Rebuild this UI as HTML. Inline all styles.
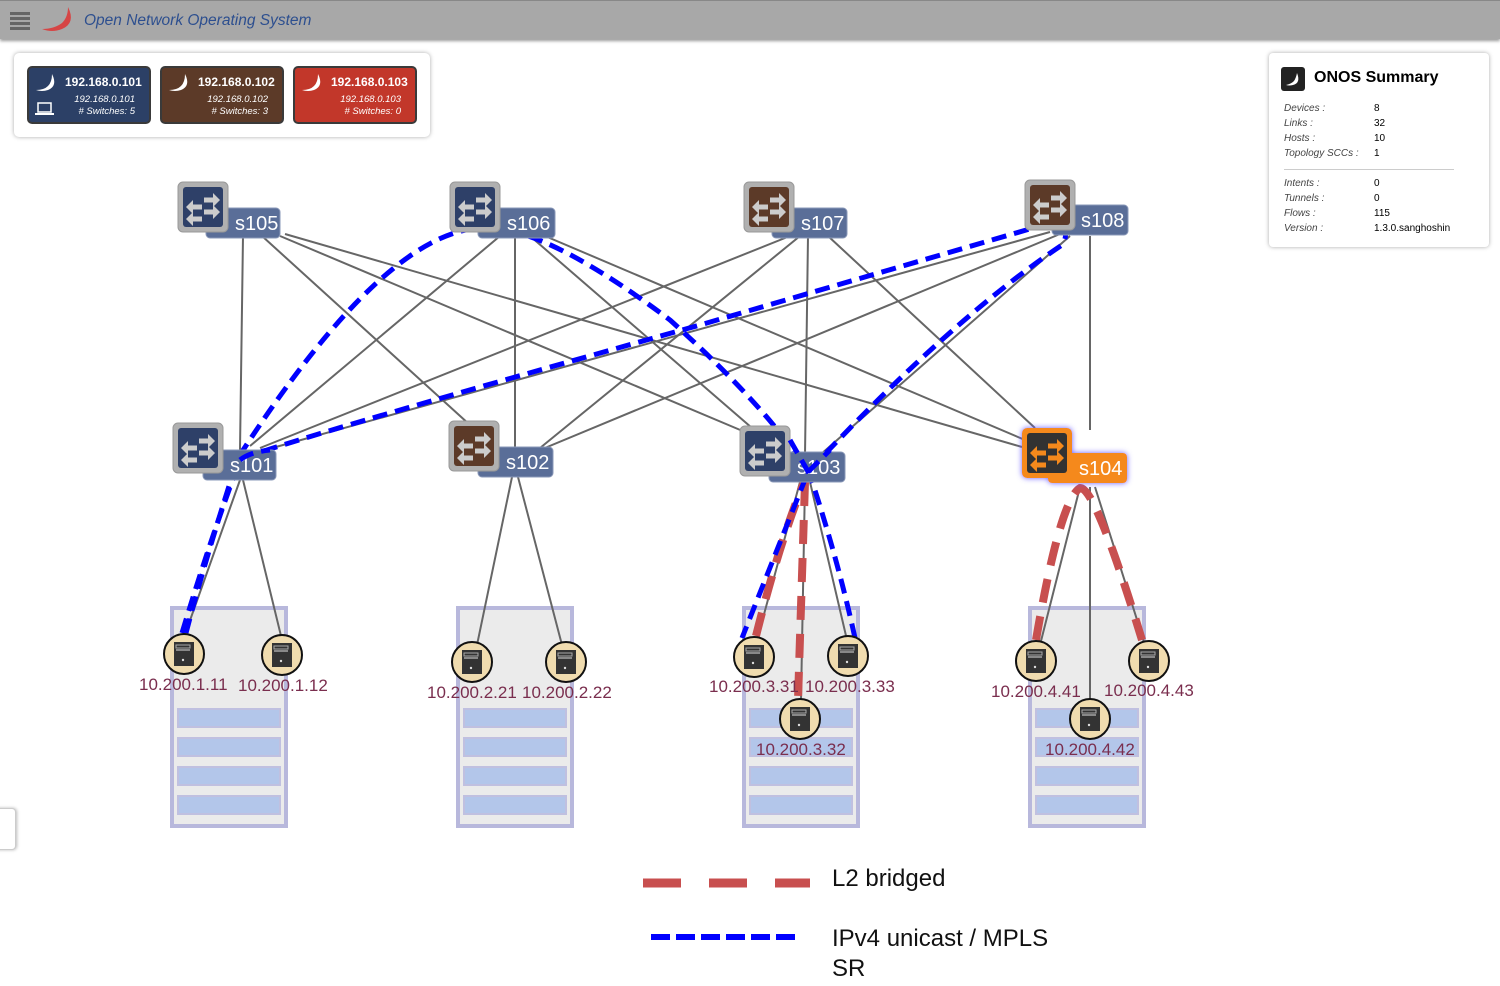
<!DOCTYPE html>
<html><head><meta charset="utf-8"><style>
body{margin:0;width:1500px;height:986px;background:#fff;overflow:hidden;font-family:"Liberation Sans",sans-serif;position:relative}
.hdr{position:absolute;left:0;top:0;width:1500px;height:38px;background:#a8a8a8;border-top:1px solid #888;box-shadow:0 2px 3px #999}
.ttl{position:absolute;left:84px;top:11px;font-size:15px;font-style:italic;color:#2d4f8f}
.inst{position:absolute;left:14px;top:53px;width:416px;height:84px;background:#fff;border-radius:5px;box-shadow:0 0 4px #aaa}
.card{position:absolute;top:13px;width:120px;height:54px;border:2px solid #3a3a3a;border-radius:5px;color:#fff}
.card b{position:absolute;left:36px;top:7px;font-size:12px}
.card i{position:absolute;right:14px;font-size:9.5px;text-align:right}
.sum{position:absolute;left:1269px;top:53px;width:220px;height:194px;background:#fff;border-radius:4px;box-shadow:0 0 4px #aaa}
.sum .h{position:absolute;left:45px;top:16px;font-size:16px;font-weight:bold}
.sum .r{position:absolute;left:15px;font-size:10px;font-style:italic;color:#444}
.sum .v{position:absolute;left:105px;font-size:10px;color:#000}
</style></head><body>
<div class="hdr">
<div style="position:absolute;left:10px;top:11px;width:20px;height:3px;background:#666;box-shadow:0 5px 0 #666,0 10px 0 #666,0 15px 0 #666"></div>
<svg style="position:absolute;left:40px;top:4px" width="36" height="30"><path d="M28 2 Q36 18 22 24 Q12 28 2 24 Q14 24 22 18 Q28 12 28 2Z" fill="#d64545"/></svg>
<div class="ttl" style="font-size:15.5px">Open Network Operating System</div>
</div>
<div class="inst">
<div class="card" style="left:13px;background:#2c4066"><b>192.168.0.101</b><i style="top:26px">192.168.0.101</i><i style="top:38px"># Switches: 5</i>
<svg style="position:absolute;left:5px;top:4px" width="26" height="44"><path d="M18 2 Q24 14 14 18 Q8 20 2 18 Q10 18 14 14 Q18 10 18 2Z" fill="#fff"/><rect x="4" y="31" width="13" height="9" fill="none" stroke="#fff" stroke-width="1.5"/><rect x="1" y="41" width="19" height="2" fill="#fff"/></svg></div>
<div class="card" style="left:146px;background:#5c3a28"><b>192.168.0.102</b><i style="top:26px">192.168.0.102</i><i style="top:38px"># Switches: 3</i>
<svg style="position:absolute;left:5px;top:4px" width="26" height="24"><path d="M18 2 Q24 14 14 18 Q8 20 2 18 Q10 18 14 14 Q18 10 18 2Z" fill="#fff"/></svg></div>
<div class="card" style="left:279px;background:#c2372a"><b>192.168.0.103</b><i style="top:26px">192.168.0.103</i><i style="top:38px"># Switches: 0</i>
<svg style="position:absolute;left:5px;top:4px" width="26" height="24"><path d="M18 2 Q24 14 14 18 Q8 20 2 18 Q10 18 14 14 Q18 10 18 2Z" fill="#fff"/></svg></div>
</div>
<div class="sum">
<svg style="position:absolute;left:12px;top:12px" width="26" height="26"><rect x="0" y="2" width="24" height="24" rx="3" fill="#222"/><path d="M16 8 Q20 18 12 20 Q8 21 5 20 Q10 19 13 16 Q15 13 16 8Z" fill="#fff"/></svg>
<div class="h">ONOS Summary</div>
<div class="r" style="top:50px">Devices :</div><div class="v" style="top:50px">8</div>
<div class="r" style="top:65px">Links :</div><div class="v" style="top:65px">32</div>
<div class="r" style="top:80px">Hosts :</div><div class="v" style="top:80px">10</div>
<div class="r" style="top:95px">Topology SCCs :</div><div class="v" style="top:95px">1</div>
<div style="position:absolute;left:15px;top:116px;width:170px;height:1px;background:#ccc"></div>
<div class="r" style="top:125px">Intents :</div><div class="v" style="top:125px">0</div>
<div class="r" style="top:140px">Tunnels :</div><div class="v" style="top:140px">0</div>
<div class="r" style="top:155px">Flows :</div><div class="v" style="top:155px">115</div>
<div class="r" style="top:170px">Version :</div><div class="v" style="top:170px">1.3.0.sanghoshin</div>
</div>
<div style="position:absolute;left:-6px;top:808px;width:20px;height:40px;border:1px solid #ccc;border-radius:4px;box-shadow:1px 0 3px #bbb;background:#fff"></div>

<svg style="position:absolute;left:0;top:0" width="1500" height="986">
<defs>
<g id="arr"><path d="M9 12 L2 19 L9 26 Z M9 16.5h9v5H9z M29 5 L36 12 L29 19 Z M20 9.5h9v5h-9z M29 17 L36 24 L29 31 Z M20 21.5h9v5h-9z M9 24 L2 31 L9 38 Z M9 28.5h9v5H9z"/></g>
<filter id="glow"><feDropShadow dx="0" dy="0" stdDeviation="3" flood-color="#6a5cff"/></filter>
<g id="rack"><rect x="2" y="2" width="114" height="218" fill="#ebebeb" stroke="#b8b8dc" stroke-width="4"/>
<rect x="8" y="103" width="102" height="18" fill="#b3c6ea" stroke="#c0c0e0" stroke-width="2"/>
<rect x="8" y="132" width="102" height="18" fill="#b3c6ea" stroke="#c0c0e0" stroke-width="2"/>
<rect x="8" y="161" width="102" height="18" fill="#b3c6ea" stroke="#c0c0e0" stroke-width="2"/>
<rect x="8" y="190" width="102" height="18" fill="#b3c6ea" stroke="#c0c0e0" stroke-width="2"/></g>
<g id="host"><circle r="20" fill="#f0dcaf" stroke="#111" stroke-width="2"/><rect x="-10" y="-12" width="20" height="24" fill="#333"/><rect x="-8" y="-9" width="14" height="3" fill="none" stroke="#aaa" stroke-width="1"/><rect x="-8" y="-5" width="14" height="2" fill="#888"/><circle cx="-1" cy="6" r="1.2" fill="#ddd"/></g>
</defs>
<use href="#rack" x="170" y="606"/><use href="#rack" x="456" y="606"/><use href="#rack" x="742" y="606"/><use href="#rack" x="1028" y="606"/>
<g stroke="#666" stroke-width="2" fill="none">
<path d="M243 236 L240 450 M262 236 L470 425 M280 236 L745 432 M285 234 L1022 447"/>
<path d="M500 236 L250 446 M515 236 L515 450 M530 236 L752 428 M545 236 L1025 440"/>
<path d="M790 236 L260 448 M800 236 L540 448 M808 236 L805 455 M828 236 L1035 428"/>
<path d="M1050 232 L265 450 M1060 234 L540 450 M1070 236 L820 455 M1090 236 L1090 430"/>
<path d="M240 480 L183 640 M243 480 L282 640 M512 477 L477 645 M518 477 L562 645 M800 482 L757 640 M805 482 L801 700 M810 482 L847 640 M1080 487 L1040 645 M1090 487 L1090 700 M1095 487 L1145 645"/>
</g>
<g fill="none" stroke="#c84f4f" stroke-width="8" stroke-dasharray="24 14">
<path d="M756 636 Q780 540 805 480 M805 482 L798 700"/>
<path d="M1036 640 Q1060 500 1080 488 Q1095 486 1142 640"/>
</g>
<g fill="none" stroke="#0000ff" stroke-width="5" stroke-dasharray="15 8">
<path d="M186 633 Q205 560 238 458 Q390 222 490 228 Q550 230 670 320 Q770 410 810 475 Q838 560 855 638"/>
<path d="M182 633 Q210 540 240 460 Q260 448 700 325 L1040 226 Q1075 224 1062 245 Q950 320 808 472 L742 638"/>
</g>
<g>
<rect x="206" y="208" width="74" height="30" rx="4" fill="#5a6e98" stroke="#8a98b8"/><text x="235" y="230" fill="#fff" font-size="20">s105</text>
<rect x="178" y="182" width="50" height="50" rx="5" fill="#b0b0b0" stroke="#999"/><rect x="183" y="187" width="40" height="40" rx="3" fill="#2e4068"/><use href="#arr" x="184" y="188" fill="#ccc"/>
<rect x="478" y="208" width="77" height="30" rx="4" fill="#5a6e98" stroke="#8a98b8"/><text x="507" y="230" fill="#fff" font-size="20">s106</text>
<rect x="450" y="182" width="50" height="50" rx="5" fill="#b0b0b0" stroke="#999"/><rect x="455" y="187" width="40" height="40" rx="3" fill="#2e4068"/><use href="#arr" x="456" y="188" fill="#ccc"/>
<rect x="772" y="208" width="75" height="30" rx="4" fill="#5a6e98" stroke="#8a98b8"/><text x="801" y="230" fill="#fff" font-size="20">s107</text>
<rect x="744" y="182" width="50" height="50" rx="5" fill="#b0b0b0" stroke="#999"/><rect x="749" y="187" width="40" height="40" rx="3" fill="#5c3a28"/><use href="#arr" x="750" y="188" fill="#ccc"/>
<rect x="1052" y="205" width="76" height="30" rx="4" fill="#5a6e98" stroke="#8a98b8"/><text x="1081" y="227" fill="#fff" font-size="20">s108</text>
<rect x="1025" y="180" width="50" height="50" rx="5" fill="#b0b0b0" stroke="#999"/><rect x="1030" y="185" width="40" height="40" rx="3" fill="#5c3a28"/><use href="#arr" x="1031" y="186" fill="#ccc"/>
<rect x="203" y="450" width="73" height="30" rx="4" fill="#5a6e98" stroke="#8a98b8"/><text x="230" y="472" fill="#fff" font-size="20">s101</text>
<rect x="173" y="423" width="50" height="50" rx="5" fill="#b0b0b0" stroke="#999"/><rect x="178" y="428" width="40" height="40" rx="3" fill="#2e4068"/><use href="#arr" x="179" y="429" fill="#ccc"/>
<rect x="478" y="447" width="75" height="30" rx="4" fill="#5a6e98" stroke="#8a98b8"/><text x="506" y="469" fill="#fff" font-size="20">s102</text>
<rect x="449" y="421" width="50" height="50" rx="5" fill="#b0b0b0" stroke="#999"/><rect x="454" y="426" width="40" height="40" rx="3" fill="#5c3a28"/><use href="#arr" x="455" y="427" fill="#ccc"/>
<rect x="769" y="452" width="76" height="30" rx="4" fill="#5a6e98" stroke="#8a98b8"/><text x="797" y="474" fill="#fff" font-size="20">s103</text>
<rect x="740" y="426" width="50" height="50" rx="5" fill="#b0b0b0" stroke="#999"/><rect x="745" y="431" width="40" height="40" rx="3" fill="#2e4068"/><use href="#arr" x="746" y="432" fill="#ccc"/>
<g filter="url(#glow)">
<rect x="1048" y="453" width="79" height="30" rx="4" fill="#f5891f"/><text x="1079" y="475" fill="#fff" font-size="20">s104</text>
<rect x="1022" y="428" width="50" height="50" rx="5" fill="#f5891f"/><rect x="1027" y="433" width="40" height="40" rx="3" fill="#333"/><use href="#arr" x="1028" y="434" fill="#f5891f"/>
</g>
</g>
<g fill="none" stroke="#0000ff" stroke-width="5" stroke-dasharray="15 8">
<path d="M240 460 Q250 452 270 450 M790 440 L810 475 M808 472 L830 450"/>
</g>
<use href="#host" x="184" y="654"/><use href="#host" x="282" y="655"/><use href="#host" x="472" y="662"/><use href="#host" x="566" y="662"/>
<use href="#host" x="754" y="657"/><use href="#host" x="848" y="656"/><use href="#host" x="800" y="719"/>
<use href="#host" x="1036" y="661"/><use href="#host" x="1149" y="661"/><use href="#host" x="1090" y="719"/>
<g fill="#7a2e4e" font-size="17">
<text x="139" y="690">10.200.1.11</text><text x="238" y="691">10.200.1.12</text>
<text x="427" y="698">10.200.2.21</text><text x="522" y="698">10.200.2.22</text>
<text x="709" y="692">10.200.3.31</text><text x="805" y="692">10.200.3.33</text><text x="756" y="755">10.200.3.32</text>
<text x="991" y="697">10.200.4.41</text><text x="1104" y="696">10.200.4.43</text><text x="1045" y="755">10.200.4.42</text>
</g>
<line x1="643" y1="883" x2="810" y2="883" stroke="#c84f4f" stroke-width="9" stroke-dasharray="38 28"/>
<line x1="651" y1="937" x2="801" y2="937" stroke="#0000ff" stroke-width="6" stroke-dasharray="19 6"/>
<g font-size="24" fill="#111"><text x="832" y="886">L2 bridged</text><text x="832" y="946">IPv4 unicast / MPLS</text><text x="832" y="976">SR</text></g>
</svg>
</body></html>
